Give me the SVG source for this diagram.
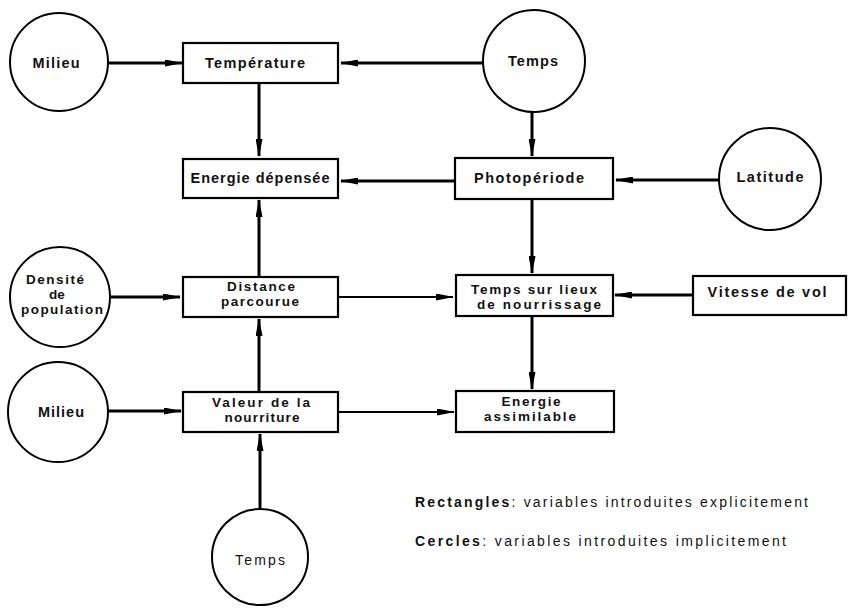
<svg xmlns="http://www.w3.org/2000/svg" width="848" height="608" viewBox="0 0 848 608">
<defs>
<marker id="ah" viewBox="0 0 18 7" refX="17" refY="3.5" markerWidth="18" markerHeight="7" markerUnits="userSpaceOnUse" orient="auto">
<path d="M0,0 L18,3.5 L0,7 z" fill="#000"/>
</marker>
<style>
.box{fill:#fff;stroke:#000;stroke-width:2.2}
.circ{fill:#fff;stroke:#000;stroke-width:2}
.t{font-family:"Liberation Sans",Arial,sans-serif;font-size:14.5px;font-weight:bold;fill:#111;text-anchor:middle}
.m{font-family:"Liberation Sans",Arial,sans-serif;font-size:13.5px;font-weight:bold;fill:#111;text-anchor:middle}
.n{font-family:"Liberation Sans",Arial,sans-serif;font-size:14px;fill:#111}
.c{stroke:#000;stroke-width:3;fill:none;marker-end:url(#ah)}
.c2{stroke:#000;stroke-width:2.2;fill:none;marker-end:url(#ah)}
</style>
</defs>
<rect width="848" height="608" fill="#fff"/>
<g id="connectors">
<line class="c" x1="108" y1="63" x2="182" y2="63"/>
<line class="c" x1="483" y1="63" x2="341" y2="63"/>
<line class="c" x1="259" y1="83" x2="259" y2="156"/>
<line class="c" x1="532" y1="112" x2="532" y2="156"/>
<line class="c" x1="455" y1="181" x2="341" y2="181"/>
<line class="c" x1="719" y1="180" x2="616" y2="180"/>
<line class="c" x1="532" y1="199" x2="532" y2="273"/>
<line class="c" x1="259" y1="277" x2="259" y2="200"/>
<line class="c" x1="110" y1="297" x2="180" y2="297"/>
<line class="c2" x1="338" y1="297" x2="453" y2="297"/>
<line class="c" x1="693" y1="295" x2="615" y2="295"/>
<line class="c" x1="532" y1="316" x2="532" y2="389"/>
<line class="c" x1="108" y1="411" x2="181" y2="411"/>
<line class="c" x1="259" y1="392" x2="259" y2="319"/>
<line class="c2" x1="338" y1="412" x2="454" y2="412"/>
<line class="c" x1="260" y1="508" x2="260" y2="434"/>
</g>
<g id="milieu1"><circle class="circ" cx="59" cy="62" r="49"/><text class="t" x="56" y="68" textLength="47">Milieu</text></g>
<g id="temperature"><rect class="box" x="183" y="43" width="155" height="40"/><text class="t" x="255" y="68" textLength="100">Température</text></g>
<g id="temps1"><circle class="circ" cx="534" cy="61" r="51"/><text class="t" x="533" y="66" textLength="50">Temps</text></g>
<g id="energie-depensee"><rect class="box" x="183" y="159" width="155" height="39"/><text class="t" x="260" y="183" textLength="139">Energie dépensée</text></g>
<g id="photoperiode"><rect class="box" x="455" y="158" width="158" height="41"/><text class="t" x="529" y="183" textLength="110">Photopériode</text></g>
<g id="latitude"><circle class="circ" cx="770" cy="179" r="51"/><text class="t" x="770" y="182" textLength="67">Latitude</text></g>
<g id="densite"><circle class="circ" cx="60" cy="297" r="50"/><text class="m" x="55" y="284" textLength="58">Densité</text><text class="m" x="57" y="299">de</text><text class="m" x="62" y="314" textLength="82">population</text></g>
<g id="distance"><rect class="box" x="183" y="277" width="155" height="40"/><text class="m" x="261" y="291" textLength="68">Distance</text><text class="m" x="260" y="306" textLength="78">parcourue</text></g>
<g id="temps-lieux"><rect class="box" x="456" y="275" width="157" height="41"/><text class="m" x="534" y="294" textLength="126">Temps sur lieux</text><text class="m" x="539" y="309" textLength="124">de nourrissage</text></g>
<g id="vitesse"><rect class="box" x="693" y="276" width="153" height="39"/><text class="t" x="767" y="297" textLength="119">Vitesse de vol</text></g>
<g id="milieu2"><circle class="circ" cx="58" cy="412" r="50"/><text class="t" x="61" y="417" textLength="46">Milieu</text></g>
<g id="valeur"><rect class="box" x="183" y="392" width="155" height="40"/><text class="m" x="261" y="407" textLength="98">Valeur de la</text><text class="m" x="262" y="422" textLength="75">nourriture</text></g>
<g id="energie-assimilable"><rect class="box" x="456" y="391" width="158" height="41"/><text class="m" x="531" y="406" textLength="59">Energie</text><text class="m" x="530" y="421" textLength="92">assimilable</text></g>
<g id="temps2"><circle class="circ" cx="260" cy="557" r="48"/><text class="n" x="260" y="565" text-anchor="middle" textLength="50">Temps</text></g>
<g id="legend">
<text class="n" x="415" y="507" textLength="393"><tspan font-weight="bold">Rectangles</tspan>: variables  introduites  explicitement</text>
<text class="n" x="415" y="546" textLength="371"><tspan font-weight="bold">Cercles</tspan>: variables  introduites  implicitement</text>
</g>
</svg>
